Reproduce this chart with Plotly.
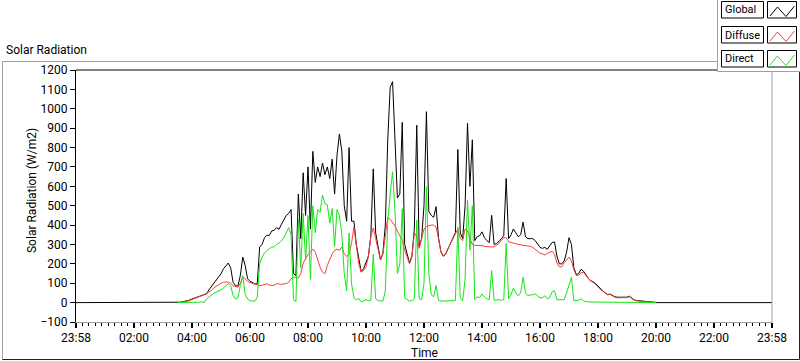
import plotly.graph_objects as go

# ---------------- data ----------------
# sample times in minutes after the axis start (labelled 23:58), 5-minute grid 03:30 .. 20:00
TIME_MIN = list(range(210, 1201, 5))
# night-time samples of the Global sensor (0 W/m2) at the start and end of the day
NIGHT_TIMES = [0, 1440]
NIGHT_GLOBAL = [0, 0]

GLOBAL = [
    0, 2, 4, 6, 9, 13,
    19, 24, 28, 33, 36, 40, 45, 66, 83, 97, 114, 128,
    149, 174, 192, 204, 180, 105, 88, 85, 140, 235, 192, 123,
    110, 104, 97, 97, 287, 300, 335, 347, 347, 370, 373, 387,
    378, 404, 425, 450, 460, 480, 150, 140, 560, 330, 670, 450,
    700, 380, 780, 620, 700, 650, 720, 660, 700, 640, 740, 560,
    760, 870, 780, 500, 420, 800, 420, 420, 300, 230, 160, 175,
    210, 240, 345, 690, 360, 285, 220, 255, 400, 840, 1110, 1140,
    880, 540, 560, 930, 300, 250, 205, 240, 380, 915, 290, 330,
    500, 985, 470, 450, 440, 495, 335, 262, 240, 252, 282, 306,
    332, 362, 790, 360, 330, 500, 925, 600, 840, 320, 340, 345,
    365, 335, 320, 310, 450, 300, 305, 315, 330, 345, 640, 330,
    350, 380, 360, 340, 350, 415, 340, 330, 330, 330, 320, 300,
    285, 280, 285, 275, 290, 310, 313, 240, 200, 200, 215, 260,
    335, 300, 180, 145, 150, 172, 162, 140, 125, 112, 108, 98,
    85, 70, 60, 50, 42, 44, 35, 30, 28, 28, 28, 30,
    28, 33, 22, 14, 11, 10, 10, 9, 8, 6, 4, 2,
    0,
]

DIFFUSE = [
    0, 2, 4, 6, 8, 10,
    16, 21, 24, 28, 33, 41, 48, 55, 62, 76, 85, 93,
    100, 105, 107, 105, 100, 88, 83, 79, 100, 131, 123, 109,
    104, 100, 97, 90, 88, 90, 93, 97, 91, 88, 90, 97,
    97, 93, 97, 98, 105, 123, 131, 131, 126, 149, 204, 231,
    249, 261, 276, 261, 218, 183, 157, 149, 192, 226, 252, 269,
    276, 269, 287, 252, 238, 252, 304, 390, 287, 200, 157, 166,
    183, 240, 340, 385, 330, 280, 220, 250, 340, 440, 430, 415,
    395, 370, 345, 320, 270, 230, 200, 235, 360, 340, 280, 330,
    380, 392, 398, 400, 400, 390, 330, 260, 238, 250, 280, 304,
    330, 360, 380, 330, 320, 380, 370, 330, 300, 295, 295, 295,
    295, 290, 288, 287, 287, 288, 295, 304, 320, 335, 335, 315,
    310, 305, 304, 300, 298, 296, 295, 292, 290, 285, 275, 262,
    255, 252, 245, 255, 262, 265, 250, 205, 185, 185, 205, 220,
    235, 215, 170, 140, 140, 155, 155, 140, 125, 110, 105, 95,
    82, 68, 58, 48, 40, 42, 33, 28, 25, 25, 24, 27,
    26, 30, 20, 12, 9, 8, 7, 6, 6, 5, 4, 3,
    2,
]

DIRECT = [
    0, 0, 0, 1, 1, 2,
    2, 2, 2, 2, 5, 0, 19, 28, 41, 48, 54, 59,
    66, 76, 88, 97, 88, 36, 19, 24, 88, 140, 45, 19,
    10, 7, 7, 28, 200, 235, 256, 269, 278, 287, 287, 300,
    307, 318, 335, 364, 387, 350, 15, 5, 430, 180, 460, 220,
    450, 120, 500, 360, 480, 465, 555, 510, 505, 410, 485, 290,
    480, 450, 350, 150, 60, 360, 100, 25, 15, 20, 5, 8,
    15, 10, 12, 250, 20, 10, 8, 8, 60, 420, 560, 675,
    470, 150, 200, 485, 25, 15, 8, 10, 20, 425, 20, 15,
    100, 598, 148, 40, 30, 88, 12, 8, 8, 8, 8, 8,
    10, 12, 390, 25, 10, 120, 528, 270, 500, 15, 30, 25,
    45, 30, 20, 15, 166, 12, 15, 15, 12, 15, 304, 20,
    40, 75, 50, 35, 50, 131, 50, 35, 40, 40, 45, 35,
    25, 25, 35, 20, 25, 55, 62, 15, 15, 12, 15, 50,
    97, 131, 10, 10, 12, 20, 10, 5, 3, 3, 3, 3,
    3, 3, 3, 3, 3, 3, 3, 3, 3, 3, 3, 3,
    3, 3, 2, 1, 0, 0, 0, 0, 0, 0, 0, 0,
    0,
]

SERIES_NAMES = ["Global", "Diffuse", "Direct"]
X_TICK_VALS = [0, 120, 240, 360, 480, 600, 720, 840, 960, 1080, 1200, 1320, 1440]
X_TICK_TEXT = ["23:58", "02:00", "04:00", "06:00", "08:00", "10:00", "12:00",
               "14:00", "16:00", "18:00", "20:00", "22:00", "23:58"]
Y_RANGE = [-100, 1200]
CHART_TITLE = "Solar Radiation"
Y_TITLE = "Solar Radiation (W/m2)"
X_TITLE = "Time"

# ---------------- styling ----------------
COLORS = {"Global": "#000000", "Diffuse": "#ff3c3c", "Direct": "#14e614"}
FONT = "Roboto, 'Liberation Sans', Arial, sans-serif"
W, H = 800, 361
L, R, T, B = 76, 772, 70, 322   # plot area in pixels


def PX(x):
    return (x - L) / (R - L)


def PY(y):
    return (B - y) / (B - T)


fig = go.Figure()

g_x = [NIGHT_TIMES[0]] + TIME_MIN + [NIGHT_TIMES[1]]
g_y = [NIGHT_GLOBAL[0]] + GLOBAL + [NIGHT_GLOBAL[1]]
fig.add_trace(go.Scatter(x=g_x, y=g_y, mode="lines", name="Global",
                         line=dict(color=COLORS["Global"], width=1)))
fig.add_trace(go.Scatter(x=TIME_MIN, y=DIFFUSE, mode="lines", name="Diffuse",
                         line=dict(color=COLORS["Diffuse"], width=1)))
fig.add_trace(go.Scatter(x=TIME_MIN, y=DIRECT, mode="lines", name="Direct",
                         line=dict(color=COLORS["Direct"], width=1)))

shapes = []
# outer panel frame
shapes.append(dict(type="line", xref="paper", yref="paper", x0=PX(2.5), x1=PX(2.5), y0=PY(61.5), y1=PY(359.5),
                   line=dict(color="#a0a0a0", width=1)))
shapes.append(dict(type="line", xref="paper", yref="paper", x0=PX(2.5), x1=PX(799.5), y0=PY(61.5), y1=PY(61.5),
                   line=dict(color="#a0a0a0", width=1)))
shapes.append(dict(type="line", xref="paper", yref="paper", x0=PX(2.5), x1=PX(799.5), y0=PY(359.5), y1=PY(359.5),
                   line=dict(color="#202020", width=1)))
shapes.append(dict(type="line", xref="paper", yref="paper", x0=PX(799.5), x1=PX(799.5), y0=PY(61.5), y1=PY(359.5),
                   line=dict(color="#202020", width=1)))
# plot-area top (black) and right (grey) borders
shapes.append(dict(type="line", xref="paper", yref="paper", x0=0, x1=1, y0=1, y1=1,
                   line=dict(color="#000000", width=1)))
shapes.append(dict(type="line", xref="paper", yref="paper", x0=1, x1=1, y0=0, y1=1,
                   line=dict(color="#a0a0a0", width=1)))
# legend panel
shapes.append(dict(type="rect", xref="paper", yref="paper", x0=PX(717.5), x1=PX(801), y0=PY(-1), y1=PY(71.5),
                   fillcolor="#ffffff", line=dict(color="#a0a0a0", width=1)))

annotations = []
row_tops = [1.5, 26.5, 50.5]
for name, top in zip(SERIES_NAMES, row_tops):
    bot = top + 16.5
    shapes.append(dict(type="rect", xref="paper", yref="paper", x0=PX(721.5), x1=PX(763.5),
                       y0=PY(bot), y1=PY(top), fillcolor="#ffffff", line=dict(color="#000000", width=1)))
    shapes.append(dict(type="rect", xref="paper", yref="paper", x0=PX(767.5), x1=PX(796.5),
                       y0=PY(bot), y1=PY(top), fillcolor="#ffffff", line=dict(color="#000000", width=1)))
    pts = [(770, top + 14.5), (777.5, top + 5.5), (786, top + 15), (794.5, top + 4.5)]
    path = "M " + " L ".join(f"{PX(a):.5f},{PY(b):.5f}" for a, b in pts)
    shapes.append(dict(type="path", xref="paper", yref="paper", path=path,
                       line=dict(color=COLORS[name], width=1)))
    annotations.append(dict(text=name, xref="paper", yref="paper", x=PX(723), y=PY(top + 8.5),
                            xanchor="left", yanchor="middle", showarrow=False,
                            font=dict(family=FONT, size=11, color="#000000")))

annotations.append(dict(text=CHART_TITLE, xref="paper", yref="paper", x=PX(4), y=PY(50),
                        xanchor="left", yanchor="middle", showarrow=False,
                        font=dict(family=FONT, size=12, color="#000000")))
annotations.append(dict(text=Y_TITLE, xref="paper", yref="paper", x=PX(32), y=PY(190),
                        xanchor="center", yanchor="middle", textangle=-90, showarrow=False,
                        font=dict(family=FONT, size=12, color="#000000")))
annotations.append(dict(text=X_TITLE, xref="paper", yref="paper", x=PX(425), y=PY(353),
                        xanchor="center", yanchor="middle", showarrow=False,
                        font=dict(family=FONT, size=12, color="#000000")))

fig.update_layout(
    width=W, height=H,
    margin=dict(l=L, r=W - R, t=T, b=H - B, pad=0),
    paper_bgcolor="#ffffff", plot_bgcolor="#ffffff",
    showlegend=False,
    shapes=shapes,
    annotations=annotations,
    font=dict(family=FONT, size=12, color="#000000"),
    xaxis=dict(range=[0, 1440], tickmode="array", tickvals=X_TICK_VALS, ticktext=X_TICK_TEXT,
               ticks="outside", ticklen=5, tickwidth=2, tickcolor="#000000",
               showline=True, linecolor="#a0a0a0", linewidth=1,
               showgrid=False, zeroline=False,
               tickfont=dict(family=FONT, size=12, color="#000000"),
               minor=dict(tick0=0, dtick=120 / 9, ticks="outside", ticklen=3, tickwidth=1,
                          tickcolor="#000000", showgrid=False)),
    yaxis=dict(range=Y_RANGE, dtick=100, ticks="outside", ticklen=5, tickwidth=1,
               tickcolor="#000000", showline=True, linecolor="#000000", linewidth=1,
               showgrid=False, zeroline=False,
               tickfont=dict(family=FONT, size=12, color="#000000")),
)

fig.write_html("out.html", config={"displayModeBar": False},
               post_script="document.body.style.margin='0';document.body.style.padding='0';")
